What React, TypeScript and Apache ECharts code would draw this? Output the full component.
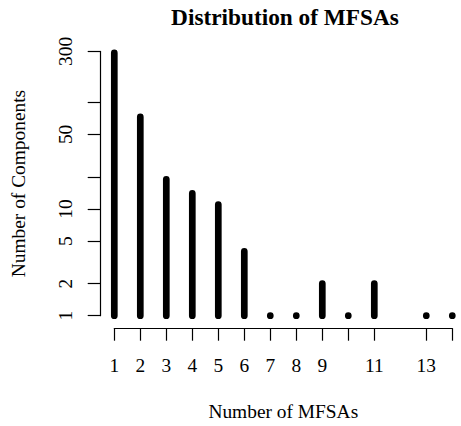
import React, { useEffect, useRef } from "react";
import * as echarts from "echarts";

const mfsaCounts = [1, 2, 3, 4, 5, 6, 7, 8, 9, 10, 11, 13, 14];
const components = [290, 73, 19, 14, 11, 4, 1, 1, 2, 1, 2, 1, 1];
const xTickValues = [1, 2, 3, 4, 5, 6, 7, 8, 9, 10, 11, 13, 14];
const xLabelValues = [1, 2, 3, 4, 5, 6, 7, 8, 9, 11, 13];
const yTickValues = [1, 2, 5, 10, 20, 50, 100, 300];
const yLabelValues = [1, 2, 5, 10, 50, 300];

const FONT = "'Liberation Serif', 'Times New Roman', serif";

export default function App() {
  const ref = useRef<HTMLDivElement>(null);
  useEffect(() => {
    if (!ref.current) return;
    const chart = echarts.init(ref.current, null, { renderer: "svg" });
    const axisLine = { show: true, lineStyle: { color: "#000", width: 1.2 } };
    const barW = 6.7;
    chart.setOption({
      animation: false,
      backgroundColor: "#fff",
      title: {
        text: "Distribution of MFSAs",
        left: 285,
        top: 5.5,
        padding: 0,
        textAlign: "center",
        textStyle: { fontFamily: FONT, fontSize: 23.3, fontWeight: "bold", color: "#000" },
      },
      grid: { left: 114.3, right: 8.7, top: 51.4, bottom: 110.3, containLabel: false, outerBoundsMode: "none" },
      xAxis: {
        type: "value",
        min: 1,
        max: 14,
        offset: 12.6,
        name: "Number of MFSAs",
        nameLocation: "middle",
        nameGap: 73.8,
        nameTextStyle: { fontFamily: FONT, fontSize: 19.4, color: "#000" },
        axisLine,
        splitLine: { show: false },
        axisTick: { show: true, length: 12.4, lineStyle: { color: "#000", width: 1.2 }, customValues: xTickValues },
        axisLabel: { show: true, margin: 27.2, fontFamily: FONT, fontSize: 19.4, color: "#000", customValues: xLabelValues },
      },
      yAxis: {
        type: "log",
        logBase: 10,
        min: 1,
        max: 300,
        offset: 14.3,
        name: "Number of Components",
        nameLocation: "middle",
        nameGap: 71.8,
        nameTextStyle: { fontFamily: FONT, fontSize: 19.4, color: "#000" },
        axisLine,
        splitLine: { show: false },
        axisTick: { show: true, length: 12.3, lineStyle: { color: "#000", width: 1.2 }, customValues: yTickValues },
        axisLabel: { show: true, rotate: 90, margin: 25, fontFamily: FONT, fontSize: 19.4, color: "#000", customValues: yLabelValues },
      },
      series: [
        {
          type: "custom",
          clip: false,
          data: mfsaCounts.map((x, i) => [x, components[i]]),
          renderItem: (params: any, api: any) => {
            const x = api.value(0);
            const y = api.value(1);
            const top = api.coord([x, y]);
            const bottom = api.coord([x, 1]);
            return {
              type: "rect",
              shape: {
                x: top[0] - barW / 2,
                y: top[1] - barW / 2,
                width: barW,
                height: bottom[1] - top[1] + barW,
                r: barW / 2,
              },
              style: { fill: "#000" },
            };
          },
        },
      ],
    });
    return () => chart.dispose();
  }, []);
  return <div ref={ref} style={{ position: "fixed", left: 0, top: 0, width: 461, height: 426 }} />;
}
